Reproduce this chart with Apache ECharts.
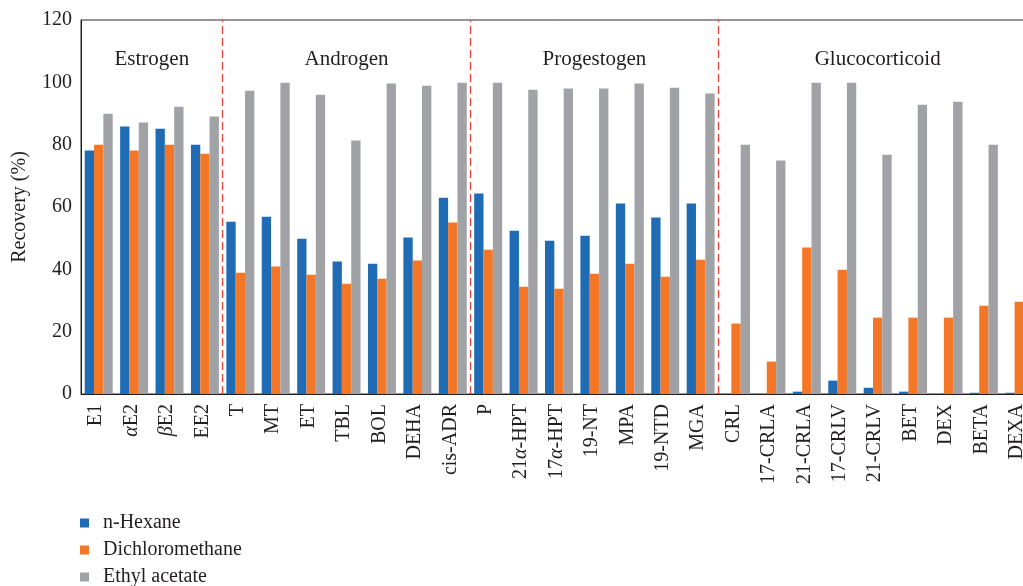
<!DOCTYPE html>
<html>
<head>
<meta charset="utf-8">
<script src="https://cdn.jsdelivr.net/npm/echarts@6/dist/echarts.min.js"></script>
<style>
  html, body { margin: 0; padding: 0; background: #fff; }
  #chart { width: 1023px; height: 586px; }
</style>
</head>
<body>
<div id="chart"></div>
<script>
// compounds, in plot order
const compounds = ['E1', 'αE2', 'βE2', 'EE2',
  'T', 'MT', 'ET', 'TBL', 'BOL', 'DEHA', 'cis-ADR',
  'P', '21α-HPT', '17α-HPT', '19-NT', 'MPA', '19-NTD', 'MGA',
  'CRL', '17-CRLA', '21-CRLA', '17-CRLV', '21-CRLV', 'BET', 'DEX', 'BETA', 'DEXA'];

const hexane = [78.1, 85.8, 85.1, 80.0,
  55.3, 56.9, 49.8, 42.5, 41.8, 50.2, 63.0,
  64.3, 52.4, 49.2, 50.8, 61.1, 56.6, 61.1,
  0, 0, 0.75, 4.3, 2.0, 0.75, 0, 0.4, 0.4];

const dichloromethane = [80.0, 78.1, 80.0, 77.1,
  38.9, 40.9, 38.3, 35.4, 37.0, 42.8, 55.0,
  46.3, 34.4, 33.8, 38.6, 41.8, 37.6, 43.1,
  22.6, 10.4, 47.0, 39.9, 24.5, 24.5, 24.5, 28.3, 29.6];

const ethylAcetate = [89.9, 87.1, 92.2, 89.0,
  97.3, 99.9, 96.0, 81.3, 99.6, 98.9, 99.9,
  99.9, 97.6, 98.0, 98.0, 99.6, 98.3, 96.4,
  80.0, 74.9, 99.9, 99.9, 76.8, 92.8, 93.8, 80.0, 87.1];

const groupNames = ['Estrogen', 'Androgen', 'Progestogen', 'Glucocorticoid'];
const groupSizes = [4, 7, 7, 9];

const FONT = 'Liberation Serif';
const INK = '#231f20';

// group boundaries / centres on a 0..27 value axis
let acc = 0;
const dividers = [];
const groupLabels = [];
groupSizes.forEach((n, i) => {
  groupLabels.push([acc + n / 2, 107.3, groupNames[i]]);
  acc += n;
  if (i < groupSizes.length - 1) dividers.push({ xAxis: acc });
});

const chart = echarts.init(document.getElementById('chart'));

chart.setOption({
  animation: false,
  textStyle: { fontFamily: FONT },
  grid: {
    left: 81, top: 20, width: 956, height: 374,
    outerBoundsMode: 'none', containLabel: false,
    show: true, borderColor: '#2b2b2b', borderWidth: 1
  },
  legend: {
    data: ['n-Hexane', 'Dichloromethane', 'Ethyl acetate'],
    orient: 'vertical',
    left: 80, top: 513, padding: 0, height: 120,
    itemWidth: 9, itemHeight: 9, itemGap: 7,
    icon: 'rect',
    textStyle: { fontFamily: FONT, fontSize: 20, lineHeight: 20, color: INK, padding: [0, 0, 0, 9] }
  },
  xAxis: [{
    type: 'category',
    data: compounds,
    axisLine: { lineStyle: { color: INK, width: 1 } },
    axisTick: { inside: true, length: 4, lineStyle: { color: INK } },
    axisLabel: {
      rotate: 90, interval: 0, margin: 10,
      fontFamily: FONT, fontSize: 20, color: INK,
      padding: [0, 0, 5, 0],
      formatter: v => v.replace(/([αβ])/g, '{i|$1}'),
      rich: { i: { fontFamily: FONT, fontSize: 20, fontStyle: 'italic', color: INK } }
    }
  }, {
    type: 'value', min: 0, max: 27, show: false
  }],
  yAxis: {
    type: 'value', min: 0, max: 120, interval: 20,
    name: 'Recovery (%)', nameLocation: 'middle', nameGap: 51,
    nameTextStyle: { fontFamily: FONT, fontSize: 20, color: INK },
    axisLine: { show: true, lineStyle: { color: INK } },
    axisTick: { show: false },
    splitLine: { show: false },
    axisLabel: { fontFamily: FONT, fontSize: 20, color: INK, margin: 9 }
  },
  series: [
    { name: 'n-Hexane', type: 'bar', data: hexane, barGap: '0%', barCategoryGap: '21%',
      itemStyle: { color: '#1f6cb5' } },
    { name: 'Dichloromethane', type: 'bar', data: dichloromethane,
      itemStyle: { color: '#f37726' } },
    { name: 'Ethyl acetate', type: 'bar', data: ethylAcetate,
      itemStyle: { color: '#a1a2a6' } },
    {
      name: 'groups', type: 'scatter', xAxisIndex: 1, symbolSize: 0,
      itemStyle: { opacity: 1 },
      data: groupLabels,
      label: {
        show: true, position: 'inside', formatter: p => p.value[2],
        fontFamily: FONT, fontSize: 21, color: INK, opacity: 1
      },
      markLine: {
        silent: true, symbol: 'none',
        label: { show: false },
        lineStyle: { color: '#e8453c', type: [8, 4], width: 1.3 },
        data: dividers
      }
    }
  ]
});
</script>
</body>
</html>
